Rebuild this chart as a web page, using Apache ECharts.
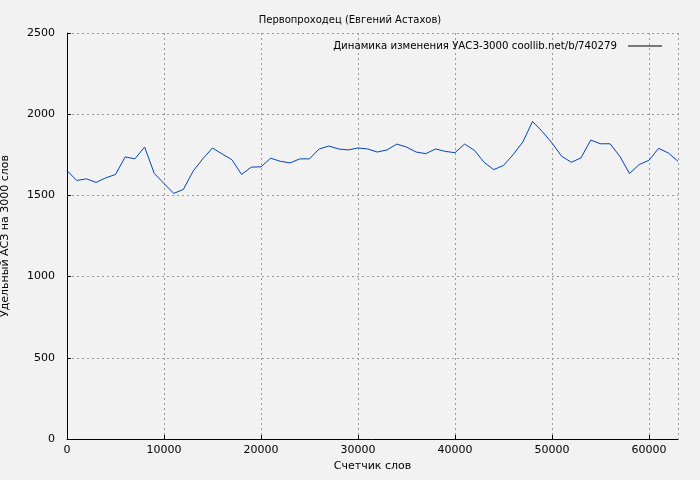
<!DOCTYPE html>
<html><head><meta charset="utf-8">
<script src="https://cdn.jsdelivr.net/npm/echarts@6/dist/echarts.min.js"></script>
<style>html,body{margin:0;padding:0;background:#f2f2f2}#c{width:700px;height:480px}</style>
</head><body><div id="c"></div>
<script>
const words = [0,1000,2000,3000,4000,5000,6000,7000,8000,9000,10000,11000,12000,13000,14000,15000,16000,17000,18000,19000,20000,21000,22000,23000,24000,25000,26000,27000,28000,29000,30000,31000,32000,33000,34000,35000,36000,37000,38000,39000,40000,41000,42000,43000,44000,45000,46000,47000,48000,49000,50000,51000,52000,53000,54000,55000,56000,57000,58000,59000,60000,61000,62000,63000];
const values = [1653,1592,1602,1580,1608,1629,1737,1725,1798,1635,1574,1512,1537,1649,1725,1792,1755,1720,1629,1674,1676,1729,1710,1700,1725,1725,1786,1804,1786,1780,1792,1786,1767,1780,1816,1798,1767,1757,1786,1771,1763,1816,1778,1704,1659,1684,1751,1829,1955,1894,1823,1741,1704,1731,1841,1818,1818,1741,1635,1690,1716,1790,1761,1710];
const title = 'Первопроходец (Евгений Астахов)';
const seriesName = 'Динамика изменения УАСЗ-3000 coollib.net/b/740279';
const font = 'DejaVu Sans';
const chart = echarts.init(document.getElementById('c'));
const dash = {show:true,lineStyle:{color:'#999',type:[2,3],width:1}};
chart.setOption({
  backgroundColor:'#f2f2f2',
  animation:false,
  textStyle:{fontFamily:font},
  title:{text:title,left:'center',top:10,textStyle:{fontSize:10,fontWeight:'normal',color:'#000',fontFamily:font}},
  legend:{right:33,top:36,itemWidth:34,itemHeight:1,icon:'rect',align:'right',itemGap:0,
    textStyle:{fontSize:10.2,color:'#000',fontFamily:font,padding:[0,6,0,0]},
    data:[{name:seriesName,itemStyle:{color:'#000'}}]},
  grid:{left:67,right:22,top:33,bottom:41,containLabel:false,outerBoundsMode:'none'},
  xAxis:{type:'value',min:0,max:63000,interval:10000,name:'Счетчик слов',nameLocation:'middle',nameGap:22,
    nameTextStyle:{fontSize:11,color:'#000'},
    axisLine:{lineStyle:{color:'#000'}},axisTick:{inside:true,length:4,lineStyle:{color:'#000'}},
    axisLabel:{fontSize:11,color:'#000',margin:6,showMaxLabel:false,formatter:v=>String(v)},splitLine:dash},
  yAxis:{type:'value',min:0,max:2500,interval:500,name:'Удельный АСЗ на 3000 слов',nameLocation:'middle',nameGap:56,
    nameTextStyle:{fontSize:11,color:'#000'},
    axisLine:{show:true,lineStyle:{color:'#000'}},axisTick:{show:true,inside:true,length:4,lineStyle:{color:'#000'}},
    axisLabel:{fontSize:11,color:'#000',margin:12,formatter:v=>String(v)},splitLine:dash},
  series:[{name:seriesName,type:'line',data:words.map((w,i)=>[w,values[i]]),showSymbol:false,
    lineStyle:{color:'#0044bb',width:1},itemStyle:{color:'#0044bb'}}]
});
</script></body></html>
